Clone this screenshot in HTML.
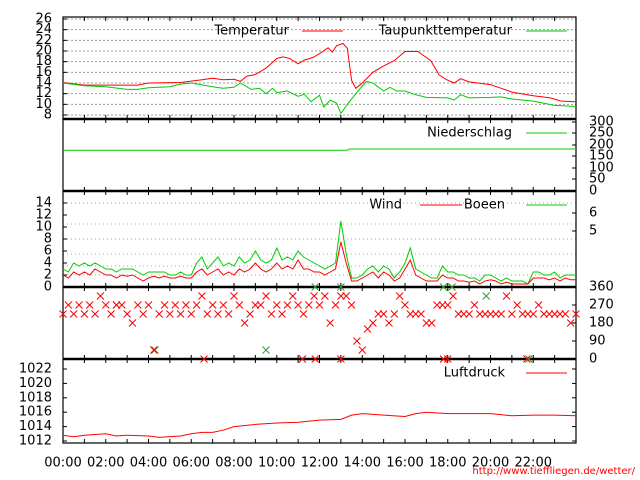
<!DOCTYPE html>
<html><head><meta charset="utf-8"><style>
html,body{margin:0;padding:0;background:#fff;}
svg{display:block;font-family:"DejaVu Sans","Liberation Sans",sans-serif;}
</style></head><body>
<svg id="c" width="640" height="480" xmlns="http://www.w3.org/2000/svg"></svg>
<script>
// ---- data ----
const hourLabels=["00:00","02:00","04:00","06:00","08:00","10:00","12:00","14:00","16:00","18:00","20:00","22:00"];
const tempTimes=[0,1,3.5,4,5.5,6.5,7,7.5,8,8.3,8.6,9,9.5,10,10.3,10.6,11,11.3,11.7,12,12.4,12.6,12.8,13.1,13.3,13.5,13.7,14,14.5,15,15.5,16,16.6,17.2,17.6,18,18.3,18.6,19,20,20.5,21,22,22.8,23.3,24];
const tempVals=[14.1,13.6,13.6,14.0,14.1,14.6,14.9,14.6,14.7,14.3,15.3,15.6,16.8,18.6,18.9,18.6,17.6,18.3,18.8,19.5,20.6,19.8,21.0,21.4,20.5,14.5,13.0,14.0,16.0,17.2,18.2,19.9,19.9,18.2,15.5,14.5,14.0,14.8,14.2,13.7,13.0,12.3,11.6,11.2,10.6,10.5];
const dewTimes=[0,1,2,3,3.5,4,5,5.5,6,7,7.5,8,8.3,8.8,9.2,9.5,9.8,10,10.5,11,11.3,11.6,12,12.2,12.5,12.8,13,13.3,13.8,14.2,14.5,15,15.3,15.6,16,16.5,17,18,18.3,18.6,19,20,20.5,21,22,23,24];
const dewVals=[14.0,13.5,13.3,12.8,12.8,13.1,13.3,13.8,14.0,13.3,13.0,13.2,14.0,12.8,13.0,12.0,13.0,12.2,12.5,11.5,11.9,10.5,11.7,9.5,10.8,10.2,8.3,10.0,12.5,14.3,14.0,12.5,13.2,12.5,12.5,11.8,11.3,11.2,10.8,11.8,11.2,11.3,11.4,11.0,10.6,9.8,9.6];
const rainTimes=[0,13.3,13.4,24];
const rainVals=[175,175,180,180];
const windVals=[2,1.5,2.5,2,2.5,2,3,2.5,2, 2,1.5,2,1.8,2,1.5,1,1.5, 1.8,1.5,1.8,1.5,1.5,1.8,1.5,1.5, 2.5,3,2,2.5,3,2,2.5,2, 3,2.5,3,4,3,2.5,3,4, 3,3.5,3,4.5,3,3,2.5,2.5, 2,2.5,3,7.5,4,1,1,1.5, 2,2.5,1.5,2.5,2,1,1.5,3, 4.5,2,1.5,1,1,1,2,1.5, 1.5,1,1,0.8,1,0.5,1,1.2, 1,0.5,0.8,0.5,0.5,0.5,0.5,1.5, 1.5,1.5,1.2,1.5,1,1.5,1.2,1.2];
const gustVals=[3,2.5,4,3.5,4,3.5,4,3.5,3, 3,2.5,3,3,3,2.5,2,2.5, 2.5,2.5,2.5,2,2,2.5,2,2, 4,5,3,4,5,3.5,4,3.5, 5,4,4.5,6,4.5,4,4.5,6.5, 4.5,5,4.5,6,5,4.5,4,3.5, 3,3.5,4,11,5.5,1.5,1.5,2, 3,3.5,2.5,3.5,3,1.5,2.5,4, 6.5,3,2.5,2,1.5,1.5,3.5,2.5, 2.5,2,2,1.5,1.5,1,2,2, 1.5,1,1.5,1,1,1,0.5,2.5, 2.5,2,2,2.5,1.5,2,2,2];
const dirVals=[225,270,225,270,225,270,225,315,270, 225,270,270,225,180,270,225,270, 45,225,270,225,270,225,270,225, 270,315,225,270,225,270,225,315, 270,180,225,270,270,315,225,270, 225,270,315,270,225,270,315,270, 315,180,270,315,315,270,90,45, 150,180,225,225,180,225,315,270, 225,225,225,180,180,270,270,270, 315,225,225,225,270,225,225,225, 225,225,315,225,270,225,225,225, 270,225,225,225,225,225,180,225];
const calmTimes=[6.6,11.2,11.8,13.0,17.8,18.0,21.7];
const gustDirTimes=[2.5,4.3,9.5,11.8,13.0,17.8,18.2,19.8,21.8];
const gustDirVals=[270,45,45,360,360,360,360,315,0];
const presTimes=[0,0.5,1,1.5,2,2.5,3,4,4.5,5.5,6,6.5,7,7.5,8,9,10,11,12,13,13.5,14,15,16,16.5,17,18,19,20,21,22,23,24];
const presVals=[1012.8,1012.6,1012.8,1012.9,1013,1012.7,1012.8,1012.7,1012.5,1012.7,1013,1013.2,1013.2,1013.5,1014,1014.3,1014.5,1014.6,1014.9,1015,1015.6,1015.8,1015.6,1015.4,1015.8,1016,1015.8,1015.8,1015.8,1015.5,1015.6,1015.6,1015.5];

// ---- geometry ----
const X0=63,X1=576;
const xs=h=>X0+(X1-X0)*h/24;
const yT=v=>19+(26-v)*(115-19)/18;
const yR=v=>191-v*70/300;
const yW=v=>287-v*(287-203)/14;
const yD=v=>359-v*72/360;
const yP=v=>441-(v-1012)*(441-369)/10;
const svg=document.getElementById('c');
const NS="http://www.w3.org/2000/svg";
function mk(tag,attrs,parent){const e=document.createElementNS(NS,tag);for(const k in attrs)e.setAttribute(k,attrs[k]);(parent||svg).appendChild(e);return e;}
function txt(x,y,s,anchor,size,fill){const t=mk('text',{x:x,y:y,'text-anchor':anchor||'start','font-size':size||13,fill:fill||'#000','dominant-baseline':'middle'});t.textContent=s;return t;}
function poly(times,vals,yf,color){let d='';times.forEach((t,i)=>{d+=(i?'L':'M')+xs(t).toFixed(1)+' '+yf(vals[i]).toFixed(1);});return mk('path',{d:d,fill:'none',stroke:color,'stroke-width':1});}

// grid
[8,10,12,14,16,18,20,22,24,26].forEach(v=>{const g=mk('line',{x1:X0,x2:X1,y1:yT(v),y2:yT(v),stroke:'#999','stroke-dasharray':'2,2','stroke-width':1});
});
[14,10.5,8,5.5,3.5,2].forEach(v=>{const g=mk('line',{x1:X0,x2:X1,y1:yW(v),y2:yW(v),stroke:'#aaa','stroke-dasharray':'1,3','stroke-width':1});
});

// panel frames & ticks
const panels=[[17,119],[119,191],[191,287],[287,359],[359,443]];
panels.forEach(p=>{
  for(let h=1;h<24;h++){const x=xs(h);
    mk('line',{x1:x,x2:x,y1:p[0],y2:p[0]+4,stroke:'#000'});
    mk('line',{x1:x,x2:x,y1:p[1],y2:p[1]-4,stroke:'#000'});}
});
const frame=mk('rect',{x:X0,y:17,width:X1-X0,height:443-17,fill:'none',stroke:'#000','stroke-width':1.2});

[119,191,287,359].forEach(y=>{const l=mk('line',{x1:X0,x2:X1,y1:y,y2:y,stroke:'#000','stroke-width':2.5});
});

// left tick labels
[8,10,12,14,16,18,20,22,24,26].forEach(v=>{mk('line',{x1:X0,x2:X0+4,y1:yT(v),y2:yT(v),stroke:'#000'});const t=txt(52,yT(v),String(v),'end');
});
[0,2,4,6,8,10,12,14].forEach(v=>{mk('line',{x1:X0,x2:X0+4,y1:yW(v),y2:yW(v),stroke:'#000'});const t=txt(52,yW(v),String(v),'end');
});
[1012,1014,1016,1018,1020,1022].forEach(v=>{mk('line',{x1:X0,x2:X0+4,y1:yP(v),y2:yP(v),stroke:'#000'});mk('line',{x1:X1,x2:X1-4,y1:yP(v),y2:yP(v),stroke:'#000'});const t=txt(52,yP(v),String(v),'end');
});
// right labels
[[300,122],[250,133],[200,145],[150,156],[100,168],[50,179],[0,191]].forEach(a=>{mk('line',{x1:X1,x2:X1-4,y1:a[1],y2:a[1],stroke:'#000'});const t=txt(589,a[1],String(a[0]),'start');
});
[[6,213],[5,231]].forEach(a=>{mk('line',{x1:X1,x2:X1-4,y1:a[1],y2:a[1],stroke:'#000'});const t=txt(589,a[1],String(a[0]),'start');
});
[360,270,180,90,0].forEach(v=>{mk('line',{x1:X1,x2:X1-4,y1:yD(v),y2:yD(v),stroke:'#000'});const t=txt(589,yD(v),String(v),'start');
});
// x labels
hourLabels.forEach((s,i)=>{const t=txt(xs(i*2),463,s,'middle');
});

// series
let e;
e=poly(tempTimes,tempVals,yT,'#f00');
e=poly(dewTimes,dewVals,yT,'#0c0');
e=poly(rainTimes,rainVals,yR,'#0c0');
const qT=windVals.map((v,i)=>i/4);
e=poly(qT,gustVals,yW,'#0c0');
e=poly(qT,windVals,yW,'#f00');
e=poly(presTimes,presVals,yP,'#f00');
function cross(x,y,c){const g=mk('path',{d:`M${x-3.5} ${y-3.5}L${x+3.5} ${y+3.5}M${x-3.5} ${y+3.5}L${x+3.5} ${y-3.5}`,stroke:c,'stroke-width':1,fill:'none'});return g;}
gustDirTimes.forEach((t,i)=>{const c=cross(xs(t),yD(gustDirVals[i]),'#393');
});
dirVals.forEach((v,i)=>{const c=cross(xs(i/4),yD(v),'#f00');
});
calmTimes.forEach(t=>{const c=cross(xs(t),yD(0),'#f00');
});

// legends
function legend(label,xEnd,y,x1,x2,color,name){const t=txt(xEnd,y,label,'end');

const l=mk('line',{x1:x1,x2:x2,y1:y,y2:y,stroke:color});
}
legend('Temperatur',289,31,302,343,'#f00','temperature');
legend('Taupunkttemperatur',512,31,526,567,'#0c0','dewpoint');
legend('Niederschlag',512,133,526,567,'#0c0','precipitation');
legend('Wind',402,205,420,462,'#f00','wind');
legend('Boeen',505,205,526,567,'#0c0','gust');
legend('Luftdruck',505,373,526,567,'#f00','pressure');

const u=txt(635,471,'http://www.tieffliegen.de/wetter/','end',10,'#f00');

</script>
</body></html>
